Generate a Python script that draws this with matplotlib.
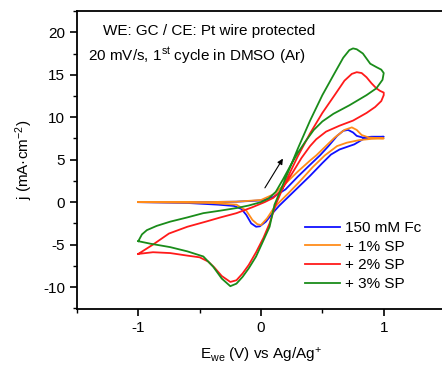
import matplotlib
matplotlib.use("Agg")
import matplotlib.pyplot as plt
from matplotlib.ticker import MultipleLocator

plt.rcParams['font.family'] = ['Liberation Sans', 'DejaVu Sans']
plt.rcParams['mathtext.fontset'] = 'custom'
plt.rcParams['mathtext.rm'] = 'Liberation Sans'
plt.rcParams['mathtext.it'] = 'Liberation Sans'
plt.rcParams['axes.unicode_minus'] = False

labels = ['150 mM Fc', '+ 1% SP', '+ 2% SP', '+ 3% SP']
colors = ['#1010ff', '#ff8c1a', '#ff1a1a', '#1a8c1a']

# blue: 150 mM Fc (closed loop)
fc_E = [-1.0, -0.5, -0.2, 0.0, 0.1, 0.2, 0.3, 0.4, 0.48, 0.55, 0.62, 0.67, 0.71, 0.75, 0.78, 0.83, 0.9, 1.0,
        1.0, 0.9, 0.83, 0.76, 0.7, 0.64, 0.57, 0.5, 0.4, 0.3, 0.2, 0.15, 0.1, 0.04, -0.01, -0.04, -0.08, -0.12,
        -0.16, -0.22, -0.35, -0.6, -1.0]
fc_j = [0.0, 0.0, 0.05, 0.2, 0.6, 1.5, 3.0, 4.4, 5.5, 6.6, 7.8, 8.4, 8.5, 8.2, 7.8, 7.6, 7.7, 7.7,
        7.7, 7.6, 7.4, 6.8, 6.5, 6.2, 5.6, 4.6, 3.1, 1.7, 0.3, -0.4, -1.2, -2.3, -2.85, -2.9, -2.5, -1.5,
        -0.8, -0.45, -0.3, -0.1, 0.0]

# orange: + 1% SP
sp1_E = [-1.0, -0.5, -0.2, 0.0, 0.1, 0.2, 0.3, 0.4, 0.45, 0.5, 0.6, 0.68, 0.74, 0.78, 0.82, 0.88, 1.0,
         1.0, 0.9, 0.8, 0.7, 0.62, 0.52, 0.42, 0.32, 0.22, 0.15, 0.1, 0.05, 0.0, -0.03, -0.07, -0.12,
         -0.2, -0.4, -1.0]
sp1_j = [0.0, 0.0, 0.05, 0.25, 0.9, 2.2, 3.6, 4.9, 5.5, 6.2, 7.6, 8.5, 8.8, 8.5, 7.9, 7.6, 7.5,
         7.5, 7.45, 7.3, 7.0, 6.6, 5.5, 4.1, 2.5, 1.0, 0.0, -0.8, -1.9, -2.7, -2.6, -2.1, -1.0,
         -0.3, -0.1, 0.0]

# red: + 2% SP
sp2_E = [-1.0, -0.88, -0.74, -0.6, -0.5, -0.43, -0.38, -0.32, -0.25, -0.2, -0.15, -0.1, -0.04, 0.02, 0.07,
         0.12, 0.2, 0.3, 0.4, 0.5, 0.6, 0.68, 0.74, 0.78, 0.82, 0.86, 0.9, 0.94, 0.97, 1.0,
         1.0, 0.98, 0.93, 0.86, 0.75, 0.64, 0.53, 0.45, 0.4, 0.33, 0.25, 0.17, 0.1, 0.03, -0.07, -0.2,
         -0.33, -0.45, -0.6, -0.75, -0.88, -1.0]
sp2_j = [-6.1, -5.9, -6.0, -6.3, -6.5, -7.0, -7.7, -8.7, -9.4, -9.2, -8.4, -7.4, -5.9, -4.2, -2.5,
         -0.3, 2.4, 5.4, 8.1, 10.5, 12.6, 14.3, 15.1, 15.3, 15.2, 14.7, 14.0, 13.4, 13.1, 12.9,
         12.6, 11.9, 11.2, 10.5, 9.6, 9.0, 8.3, 7.4, 6.6, 5.2, 3.3, 1.5, 0.5, 0.0, -0.6, -1.3,
         -1.8, -2.3, -2.9, -3.7, -5.0, -6.1]

# green: + 3% SP
sp3_E = [-1.0, -0.9, -0.74, -0.6, -0.47, -0.39, -0.32, -0.25, -0.2, -0.15, -0.1, -0.04, 0.02, 0.07, 0.11,
         0.2, 0.3, 0.4, 0.5, 0.6, 0.67, 0.72, 0.75, 0.78, 0.83, 0.89, 0.94, 0.98, 1.0,
         0.99, 0.94, 0.86, 0.72, 0.59, 0.5, 0.43, 0.36, 0.3, 0.24, 0.18, 0.12, 0.06, 0.0, -0.1, -0.2,
         -0.33, -0.47, -0.6, -0.74, -0.85, -0.93, -0.97, -1.0]
sp3_j = [-4.6, -4.9, -5.3, -5.8, -6.4, -7.6, -9.0, -9.9, -9.6, -8.8, -7.8, -6.4, -4.5, -2.9, -0.3,
         2.8, 6.3, 9.6, 12.6, 15.2, 17.0, 17.9, 18.1, 18.0, 17.5, 16.3, 15.9, 15.6, 15.2,
         14.4, 13.4, 12.6, 11.4, 10.4, 9.5, 8.5, 7.1, 5.8, 4.3, 2.7, 1.2, 0.4, 0.0, -0.4, -0.7,
         -1.0, -1.3, -1.8, -2.3, -2.8, -3.3, -3.8, -4.6]

fig = plt.figure(figsize=(4.42, 3.68), dpi=100)
ax = fig.add_axes([0.174, 0.160, 0.833, 0.810])

curves = [(fc_E, fc_j), (sp1_E, sp1_j), (sp2_E, sp2_j), (sp3_E, sp3_j)]
for (E, j), c, lab in zip(curves, colors, labels):
    ax.plot(E, j, color=c, lw=1.3, label=lab)

ax.set_xlim(-1.5, 1.5)
ax.set_ylim(-12.6, 22.5)
ax.xaxis.set_major_locator(MultipleLocator(1))
ax.xaxis.set_minor_locator(MultipleLocator(0.5))
ax.yaxis.set_major_locator(MultipleLocator(5))
ax.yaxis.set_minor_locator(MultipleLocator(2.5))
ax.tick_params(which='major', direction='out', length=5, width=1.2, labelsize=11)
ax.tick_params(which='minor', direction='out', length=3, width=1.0)
ax.tick_params(top=False, right=False)
for s in ax.spines.values():
    s.set_linewidth(1.3)

ax.set_xlabel('E$_{\\mathrm{we}}$ (V) vs Ag/Ag$^{+}$', fontsize=11, labelpad=8)
ax.set_ylabel('j (mA\u00b7cm$^{-2}$)', fontsize=11, labelpad=6)

ax.text(0.07, 0.955, 'WE: GC / CE: Pt wire protected', transform=ax.transAxes, fontsize=11, va='top')
ax.text(0.03, 0.885, '20 mV/s, 1$^{\\mathrm{st}}$ cycle in DMSO (Ar)', transform=ax.transAxes, fontsize=11, va='top')

ax.annotate('', xy=(0.19, 5.4), xytext=(0.02, 1.4),
            arrowprops=dict(arrowstyle='-|>', color='black', lw=0.8, mutation_scale=8))

ax.legend(loc='upper left', bbox_to_anchor=(0.62, 0.295), frameon=False, fontsize=11,
          handlelength=2.3, handletextpad=0.3, labelspacing=0.3, borderaxespad=0, borderpad=0)

fig.savefig('out.png', dpi=100)
